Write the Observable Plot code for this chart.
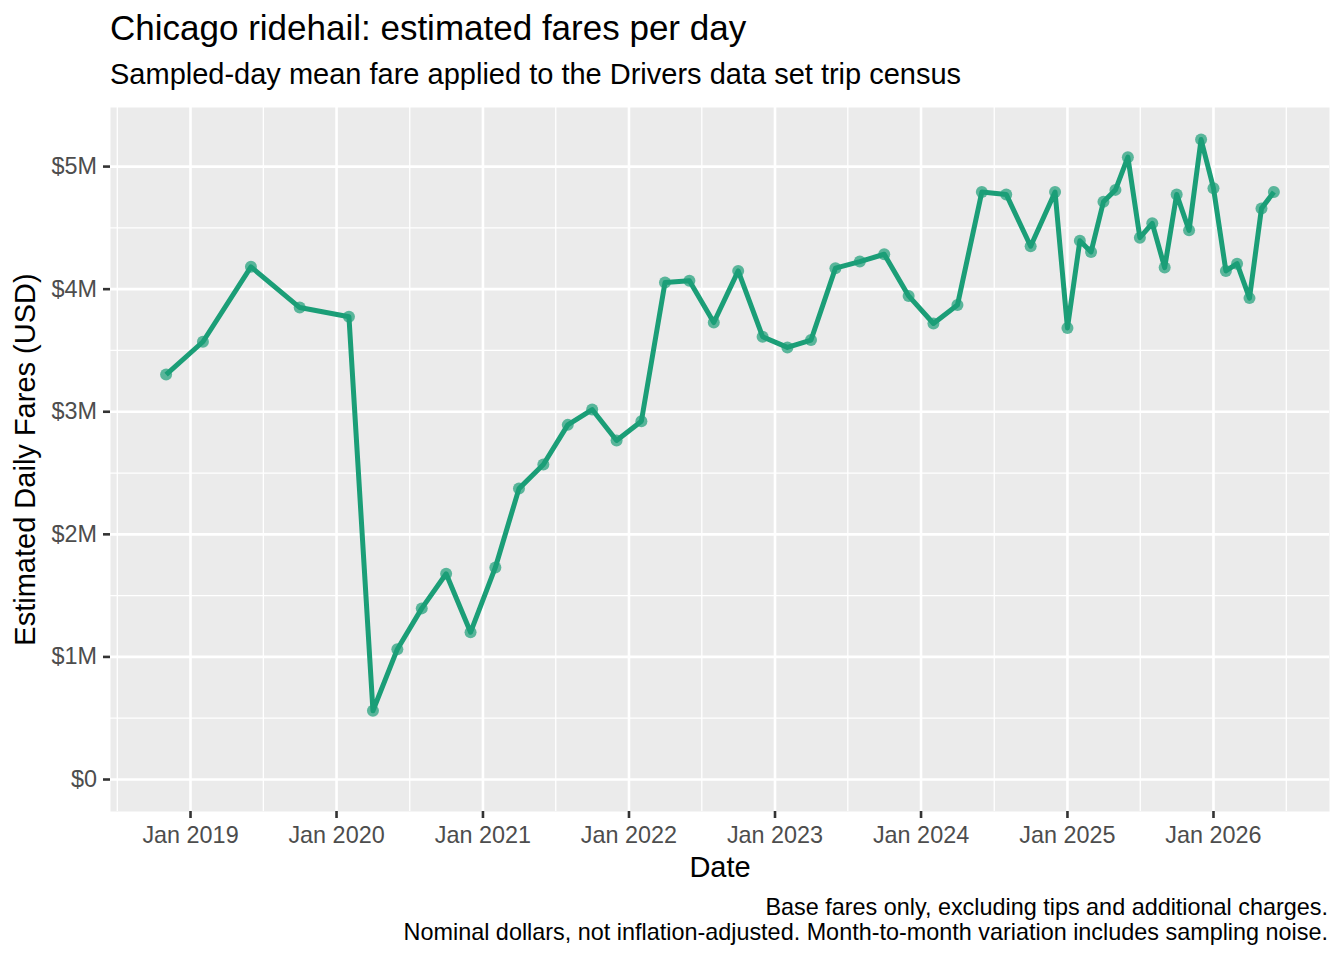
<!DOCTYPE html>
<html>
<head>
<meta charset="utf-8">
<script src="https://cdn.jsdelivr.net/npm/d3@7"></script>
<script src="https://cdn.jsdelivr.net/npm/@observablehq/plot@0.6"></script>
<style>
  html, body { margin: 0; padding: 0; background: #ffffff; }
  body { width: 1344px; height: 960px; font-family: "Liberation Sans", Arial, Helvetica, sans-serif; color: #000; }
  #header { position: relative; height: 92px; }
  #title { position: absolute; left: 110px; top: 10px; font-size: 35px; line-height: 35px; white-space: nowrap; }
  #subtitle { position: absolute; left: 110px; top: 59.5px; font-size: 29px; line-height: 29px; white-space: nowrap; }
  #chart svg { display: block; }
  #caption { margin-top: 5px; padding-right: 16px; text-align: right; font-size: 23.4px; line-height: 25px; white-space: nowrap; }
</style>
</head>
<body>
<div id="header">
  <div id="title">Chicago ridehail: estimated fares per day</div>
  <div id="subtitle">Sampled-day mean fare applied to the Drivers data set trip census</div>
</div>
<div id="chart"></div>
<div id="caption">Base fares only, excluding tips and additional charges.<br>Nominal dollars, not inflation-adjusted. Month-to-month variation includes sampling noise.</div>
<script>
// ---- data ----
const monthDates = [
  "2018-11-01","2019-02-01","2019-06-01","2019-10-01","2020-02-01",
  "2020-04-01","2020-06-01","2020-08-01","2020-10-01","2020-12-01",
  "2021-02-01","2021-04-01","2021-06-01","2021-08-01","2021-10-01","2021-12-01",
  "2022-02-01","2022-04-01","2022-06-01","2022-08-01","2022-10-01","2022-12-01",
  "2023-02-01","2023-04-01","2023-06-01","2023-08-01","2023-10-01","2023-12-01",
  "2024-02-01","2024-04-01","2024-06-01","2024-08-01","2024-10-01","2024-12-01",
  "2025-01-01","2025-02-01","2025-03-01","2025-04-01","2025-05-01","2025-06-01",
  "2025-07-01","2025-08-01","2025-09-01","2025-10-01","2025-11-01","2025-12-01",
  "2026-01-01","2026-02-01","2026-03-01","2026-04-01","2026-05-01","2026-06-01"
];
// estimated daily fares, millions of USD
const faresMillions = [
  3.303, 3.571, 4.182, 3.850, 3.775,
  0.561, 1.063, 1.396, 1.678, 1.201,
  1.730, 2.373, 2.570, 2.893, 3.018, 2.766,
  2.923, 4.054, 4.068, 3.728, 4.149, 3.612,
  3.525, 3.585, 4.171, 4.225, 4.285, 3.945,
  3.720, 3.870, 4.792, 4.773, 4.350, 4.792,
  3.684, 4.395, 4.304, 4.713, 4.810, 5.077,
  4.420, 4.537, 4.176, 4.773, 4.480, 5.221,
  4.824, 4.149, 4.208, 3.927, 4.659, 4.792
];
const xTickDates = ["2019-01-01","2020-01-01","2021-01-01","2022-01-01","2023-01-01","2024-01-01","2025-01-01","2026-01-01"];
const xMinorDates = ["2018-07-02","2019-07-02","2020-07-02","2021-07-02","2022-07-02","2023-07-02","2024-07-02","2025-07-02","2026-07-02"];
const yTicks = [0, 1, 2, 3, 4, 5];
const yMinorTicks = [0.5, 1.5, 2.5, 3.5, 4.5];
const xLimits = ["2018-06-15", "2026-10-18"];
const yLimits = [-0.261, 5.482];

const xTitle = "Date";
const yTitle = "Estimated Daily Fares (USD)";

// ---- build ----
const parse = s => new Date(s + "T00:00:00Z");
const data = monthDates.map((d, i) => ({date: parse(d), fare: faresMillions[i]}));
const green = "#1b9e77";

const chart = Plot.plot({
  width: 1344,
  height: 798,
  marginLeft: 110,
  marginRight: 15,
  marginTop: 15,
  marginBottom: 79,
  style: {fontFamily: "'Liberation Sans', Arial, Helvetica, sans-serif", background: "#ffffff", overflow: "visible"},
  x: {type: "utc", domain: xLimits.map(parse)},
  y: {domain: yLimits},
  marks: [
    Plot.frame({fill: "#ebebeb", stroke: "none"}),
    Plot.gridY(yMinorTicks, {stroke: "#ffffff", strokeOpacity: 1, strokeWidth: 1.3}),
    Plot.gridX(xMinorDates.map(parse), {stroke: "#ffffff", strokeOpacity: 1, strokeWidth: 1.3}),
    Plot.gridY(yTicks, {stroke: "#ffffff", strokeOpacity: 1, strokeWidth: 2.6}),
    Plot.gridX(xTickDates.map(parse), {stroke: "#ffffff", strokeOpacity: 1, strokeWidth: 2.6}),
    Plot.line(data, {x: "date", y: "fare", stroke: green, strokeWidth: 5, strokeLinejoin: "round", strokeLinecap: "butt"}),
    Plot.dot(data, {x: "date", y: "fare", r: 6, fill: green, fillOpacity: 0.7, stroke: "none"}),
    Plot.axisY(yTicks, {
      tickSize: 7, tickPadding: 6.5, fontSize: 23.4,
      stroke: "#333333", strokeWidth: 2.6, fill: "#4d4d4d",
      tickFormat: d => "$" + d + (d === 0 ? "" : "M"), label: null
    }),
    Plot.axisX(xTickDates.map(parse), {
      tickSize: 7, tickPadding: 8, fontSize: 23.4,
      stroke: "#333333", strokeWidth: 2.6, fill: "#4d4d4d",
      tickFormat: d3.utcFormat("%b %Y"), label: null
    }),
    Plot.text([xTitle], {text: d => d, frameAnchor: "bottom", dy: 65, lineAnchor: "bottom", fontSize: 29, fill: "#000000"}),
    Plot.text([yTitle], {text: d => d, frameAnchor: "left", dx: -96, rotate: -90, textAnchor: "middle", lineAnchor: "top", fontSize: 29, fill: "#000000"})
  ]
});
document.getElementById("chart").appendChild(chart);
</script>
</body>
</html>
